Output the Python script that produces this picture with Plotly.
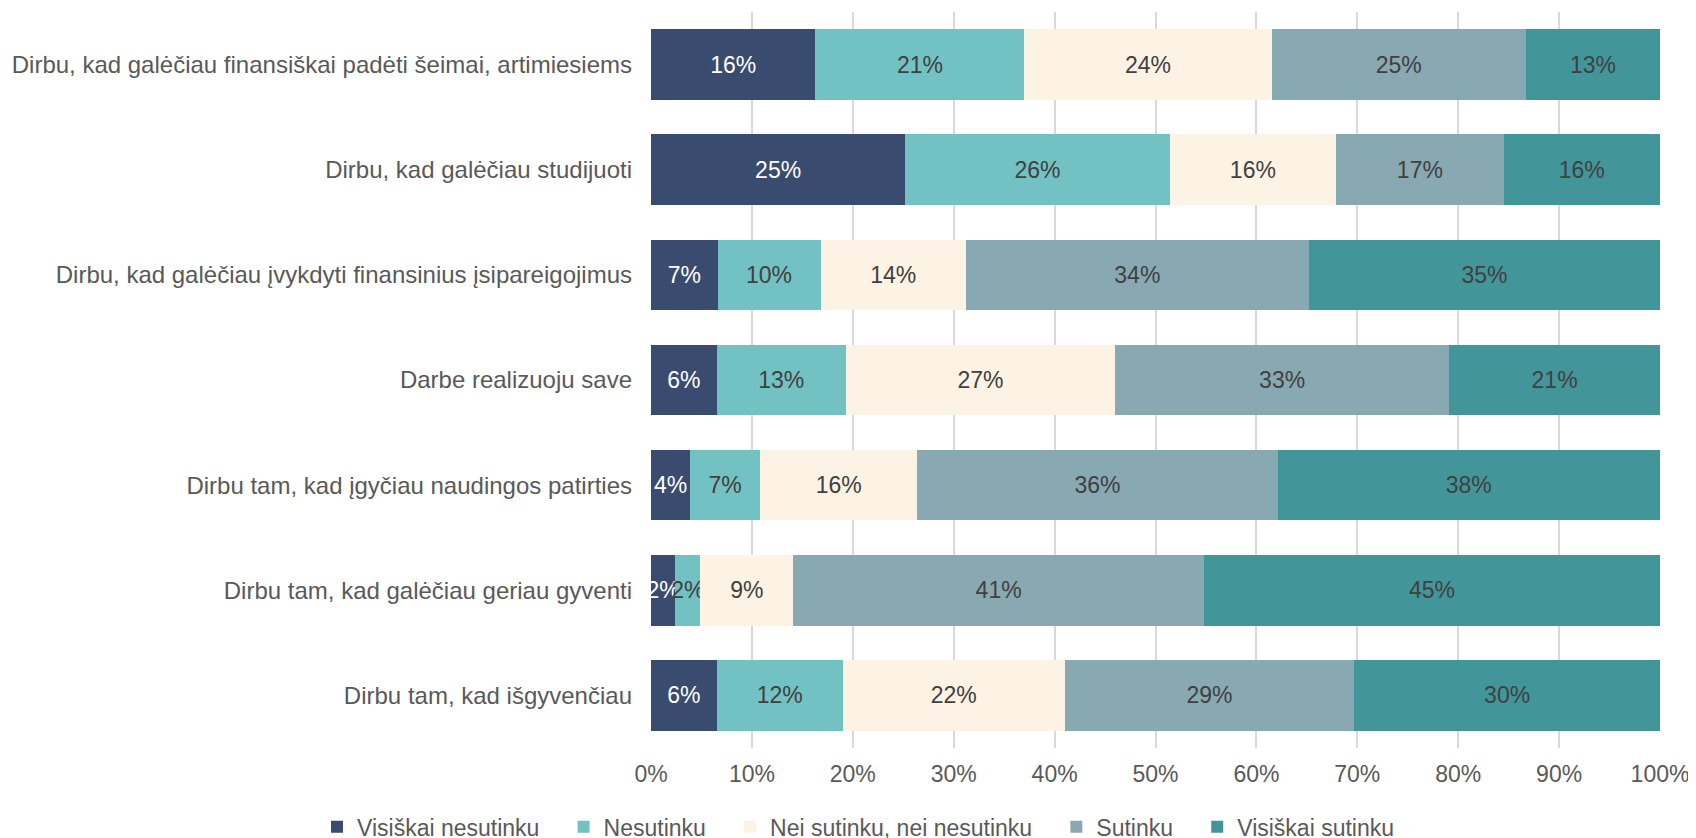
import plotly.graph_objects as go

# statements, top to bottom as in the chart
categories = [
    "Dirbu, kad galėčiau finansiškai padėti šeimai, artimiesiems",
    "Dirbu, kad galėčiau studijuoti",
    "Dirbu, kad galėčiau įvykdyti finansinius įsipareigojimus",
    "Darbe realizuoju save",
    "Dirbu tam, kad įgyčiau naudingos patirties",
    "Dirbu tam, kad galėčiau geriau gyventi",
    "Dirbu tam, kad išgyvenčiau",
]

# shares of answers (%), one list per answer option
visiskai_nesutinku = [16.3, 25.2, 6.6, 6.5, 3.9, 2.4, 6.5]
nesutinku = [20.7, 26.2, 10.2, 12.8, 6.9, 2.5, 12.5]
nei_nei = [24.5, 16.5, 14.4, 26.7, 15.6, 9.2, 22.0]
sutinku = [25.2, 16.6, 34.0, 33.1, 35.7, 40.7, 28.7]
visiskai_sutinku = [13.3, 15.5, 34.8, 20.9, 37.9, 45.2, 30.3]

series_names = ["Visiškai nesutinku", "Nesutinku", "Nei sutinku, nei nesutinku",
                "Sutinku", "Visiškai sutinku"]
series_values = [visiskai_nesutinku, nesutinku, nei_nei, sutinku, visiskai_sutinku]
colors = ["#394B6E", "#73C2C3", "#FDF3E4", "#88A9B2", "#42969A"]
text_colors = ["#FFFFFF", "#404040", "#404040", "#404040", "#404040"]

font_family = "Liberation Sans, Arial, sans-serif"
legend_pad = "\u00a0" * 3  # extra room between legend entries

fig = go.Figure()

for name, vals, col, tcol in zip(series_names, series_values, colors, text_colors):
    fig.add_trace(go.Bar(
        y=categories,
        x=vals,
        name=name + legend_pad,
        orientation="h",
        marker=dict(color=col, line=dict(width=0)),
        text=[f"{round(v)}%" for v in vals],
        textposition="inside",
        insidetextanchor="middle",
        textangle=0,
        textfont=dict(color=tcol, size=23, family=font_family),
        hoverinfo="skip",
    ))

# page body adds an 8 px margin; figure runs a little past the window bottom
# so the legend does not push the plot area up
fig.update_layout(
    barmode="stack",
    bargap=0.33,
    width=1688,
    height=846,
    margin=dict(l=643, r=36, t=4, b=106),
    plot_bgcolor="white",
    paper_bgcolor="white",
    font=dict(family=font_family, color="#595959"),
    uniformtext=dict(minsize=23, mode="show"),
    xaxis=dict(
        range=[0, 100],
        dtick=10,
        ticksuffix="%",
        showgrid=True,
        gridcolor="#D9D9D9",
        gridwidth=1.5,
        zeroline=False,
        showline=False,
        automargin=False,
        tickfont=dict(size=23, color="#595959"),
        ticklabelstandoff=10,
        fixedrange=True,
    ),
    yaxis=dict(
        autorange="reversed",
        showgrid=False,
        showline=False,
        automargin=False,
        tickfont=dict(size=24, color="#595959"),
        ticklabelstandoff=18,
        fixedrange=True,
    ),
    legend=dict(
        orientation="h",
        x=-0.331,
        xanchor="left",
        y=-0.107,
        yanchor="middle",
        font=dict(size=23, color="#595959"),
        traceorder="normal",
        itemwidth=30,
    ),
)

fig.write_html("out.html")
